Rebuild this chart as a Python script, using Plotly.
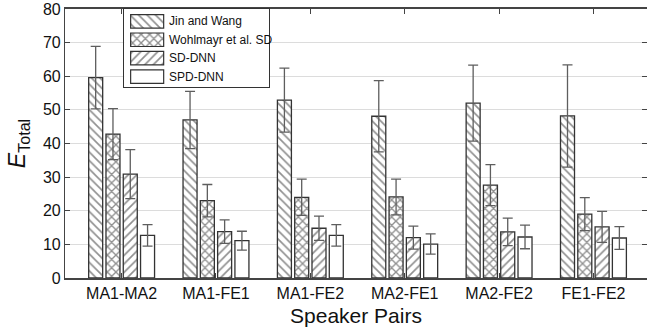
import plotly.graph_objects as go

# Separation error per speaker pair, four methods (mean and +/- spread)
categories = ["MA1-MA2", "MA1-FE1", "MA1-FE2", "MA2-FE1", "MA2-FE2", "FE1-FE2"]
methods = ["Jin and Wang", "Wohlmayr et al. SD", "SD-DNN", "SPD-DNN"]

jin_wang = [59.6, 47.0, 52.9, 48.1, 52.0, 48.2]
jin_wang_err = [9.3, 8.5, 9.5, 10.6, 11.3, 15.2]
wohlmayr = [42.8, 23.0, 24.0, 24.1, 27.6, 19.0]
wohlmayr_err = [7.6, 4.8, 5.4, 5.3, 6.1, 4.9]
sd_dnn = [30.9, 13.8, 14.8, 12.0, 13.7, 15.2]
sd_dnn_err = [7.3, 3.5, 3.6, 3.4, 4.1, 4.6]
spd_dnn = [12.7, 11.1, 12.7, 10.1, 12.2, 11.9]
spd_dnn_err = [3.2, 2.8, 3.2, 3.0, 3.5, 3.4]

y_ticks = [0, 10, 20, 30, 40, 50, 60, 70, 80]

values = [jin_wang, wohlmayr, sd_dnn, spd_dnn]
errors = [jin_wang_err, wohlmayr_err, sd_dnn_err, spd_dnn_err]
hatches = ["\\", "x", "/", ""]
solidities = [0.28, 0.4, 0.28, 0.28]

FONT = "Liberation Sans, Arial, sans-serif"
EDGE = "#333333"


def hatch_style(shape, solidity):
    return dict(shape=shape, fgcolor="#222222", bgcolor="white", size=6, solidity=solidity)


W, H = 647, 335
ML, MT, MB = 65.4, 9, 57.3
plot_w = W - ML
plot_h = H - MT - MB
unit_px = 94.3
x_lo = 0.4
x_hi = x_lo + plot_w / unit_px

fig = go.Figure()
xs = list(range(1, len(categories) + 1))

for name, vals, errs, hatch, sol in zip(methods, values, errors, hatches, solidities):
    fig.add_trace(go.Bar(
        x=xs, y=vals, name=name, showlegend=False,
        marker=dict(color="white",
                    line=dict(color=EDGE, width=1.3),
                    pattern=hatch_style(hatch, sol)),
        error_y=dict(type="data", array=errs, visible=True,
                     color="#5e5e5e", thickness=1.3, width=5),
    ))

# invisible trace carrying the right-hand tick axis
fig.add_trace(go.Scatter(x=[1], y=[0], yaxis="y2", mode="markers",
                         marker=dict(opacity=0), showlegend=False, hoverinfo="skip"))

# legend drawn as a small inset panel
box_l, box_r, box_t, box_b = 124.5, 269.5, 9.0, 87.0
fig.add_shape(type="rect", xref="x3 domain", yref="y3 domain",
              x0=0, x1=1, y0=0, y1=1, fillcolor="white",
              line=dict(width=0), layer="below")
row0, row_step, sw_x0, sw_len, sw_h = 12.3, 18.4, 6.5, 33, 13.5
for i, (name, hatch, sol) in enumerate(zip(methods, hatches, solidities)):
    yc = row0 + row_step * i
    fig.add_trace(go.Bar(
        x=[sw_len], y=[yc], base=sw_x0, orientation="h", width=sw_h, offset=-sw_h / 2,
        xaxis="x3", yaxis="y3", showlegend=False, hoverinfo="skip",
        marker=dict(color="white", line=dict(color=EDGE, width=1.2),
                    pattern=hatch_style(hatch, sol)),
    ))
    fig.add_annotation(x=sw_x0 + sw_len + 3.5, y=yc, xref="x3", yref="y3",
                       text=name, showarrow=False, xanchor="left", yanchor="middle",
                       font=dict(family=FONT, size=12, color="#111"))

fig.update_layout(
    width=W, height=H,
    margin=dict(l=ML, r=0, t=MT, b=MB),
    paper_bgcolor="white", plot_bgcolor="white",
    barmode="group", bargap=0.267, bargroupgap=0.19,
    font=dict(family=FONT, color="#111"),
    xaxis=dict(range=[x_lo, x_hi], tickvals=xs, ticktext=categories,
               ticks="inside", ticklen=5, tickcolor="#444",
               showline=True, linecolor="#444", linewidth=1.8, mirror="ticks",
               showgrid=False, zeroline=False,
               tickfont=dict(family=FONT, size=16, color="#111"),
               title=dict(text="Speaker Pairs", standoff=7,
                          font=dict(family=FONT, size=21, color="#111"))),
    yaxis=dict(range=[0, 80], tickvals=y_ticks,
               ticks="inside", ticklen=5, tickcolor="#444",
               showline=True, linecolor="#444", linewidth=1.2,
               showgrid=True, gridcolor="#dcdcdc", gridwidth=1, zeroline=False,
               tickfont=dict(family=FONT, size=16, color="#111"),
               title=dict(text="<i>E</i><sub>Total</sub>", standoff=10,
                          font=dict(family=FONT, size=23, color="#111"))),
    yaxis2=dict(range=[0, 80], tickvals=y_ticks, overlaying="y", side="right",
                ticks="inside", ticklen=5, tickcolor="#444",
                showticklabels=False, showline=False, showgrid=False, zeroline=False),
    xaxis3=dict(domain=[(box_l - ML) / plot_w, (box_r - ML) / plot_w], anchor="y3",
                range=[0, box_r - box_l], showticklabels=False, ticks="",
                showgrid=False, zeroline=False, showline=True, mirror=True,
                linecolor="#333", linewidth=1.2, fixedrange=True),
    yaxis3=dict(domain=[(H - MB - box_b) / plot_h, 1.0], anchor="x3",
                range=[box_b - box_t, 0], showticklabels=False, ticks="",
                showgrid=False, zeroline=False, showline=True, mirror=True,
                linecolor="#333", linewidth=1.2, fixedrange=True),
)

fig.write_html("out.html")
